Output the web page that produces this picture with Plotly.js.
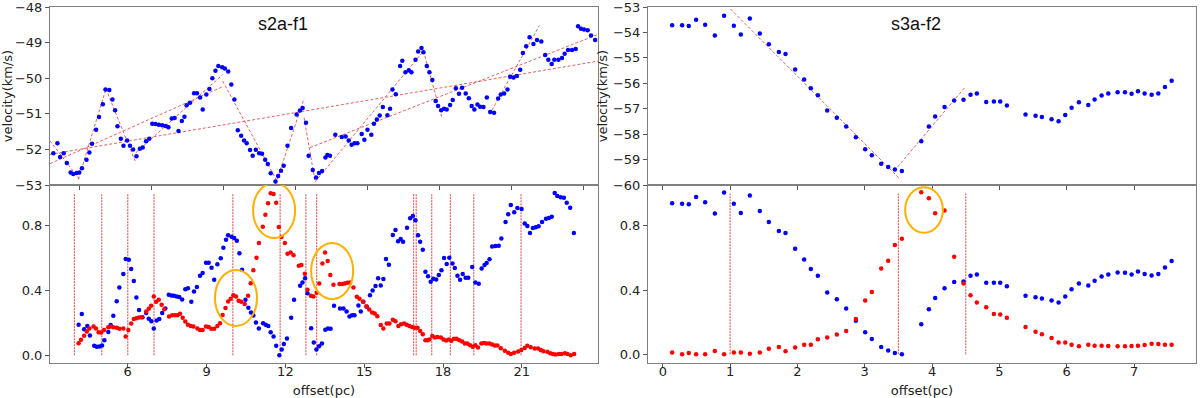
<!DOCTYPE html>
<html>
<head>
<meta charset="utf-8">
<script src="https://cdn.plot.ly/plotly-3.0.1.min.js"></script>
<style>
  html, body { margin: 0; padding: 0; background: #fff; }
  #chart { width: 1200px; height: 398px; }
</style>
</head>
<body>
<div id="chart"></div>
<script>
// ---- s2a-f1: velocity (top left) ----
const velLx = [1.93,2.10,2.21,2.36,2.49,2.65,2.76,2.90,3.01,3.12,3.31,3.43,3.54,3.71,3.83,3.99,4.10,4.26,4.39,4.50,4.60,4.74,4.85,5.00,5.12,5.25,5.39,5.53,5.65,5.79,5.92,6.05,6.18,6.32,6.46,6.60,6.72,6.86,6.98,7.14,7.28,7.39,7.48,7.62,7.79,7.91,8.04,8.15,8.30,8.43,8.55,8.68,8.80,8.96,9.07,9.21,9.34,9.47,9.61,9.75,9.87,9.98,10.12,10.23,10.36,10.50,10.62,10.75,10.86,10.98,11.18,11.29,11.41,11.52,11.68,11.83,12.06,12.20,12.31,12.45,12.56,
  12.73,12.87,12.99,13.12,13.26,13.34,13.45,13.67,13.94,14.10,14.23,14.35,14.47,14.59,14.77,14.88,15.01,15.17,15.28,15.40,15.52,15.65,15.84,15.95,16.05,16.19,16.37,16.46,16.59,16.73,16.84,17.01,17.12,17.26,17.34,17.48,17.59,17.71,17.85,17.95,18.08,18.20,18.31,18.45,18.56,18.69,18.82,18.95,19.10,19.23,19.35,19.46,19.59,19.70,19.84,19.98,20.12,20.28,20.45,20.56,20.70,20.84,20.95,21.09,21.23,21.37,21.48,21.62,21.76,21.92,22.07,22.25,22.41,22.54,22.68,22.79,22.96,23.11,23.22,23.36,23.53,23.68,23.78,23.90,24.03,24.18,24.32,24.49];
const velLy = [-52.11,-51.83,-52.21,-52.11,-52.38,-52.65,-52.69,-52.66,-52.65,-52.53,-52.29,-52.09,-51.84,-51.45,-51.09,-50.73,-50.32,-50.33,-50.60,-50.90,-51.35,-51.70,-51.90,-51.75,-51.90,-52.00,-52.19,-51.98,-51.95,-51.77,-51.70,-51.28,-51.29,-51.31,-51.32,-51.34,-51.38,-51.13,-51.12,-51.48,-51.20,-51.08,-50.76,-50.69,-50.42,-50.42,-50.54,-50.88,-50.46,-50.30,-50.00,-49.79,-49.66,-49.69,-49.73,-49.81,-50.18,-50.60,-51.46,-51.62,-51.75,-51.83,-52.02,-52.18,-52.01,-52.11,-52.12,-52.29,-52.41,-52.67,-52.90,-52.75,-52.60,-52.46,-51.90,-51.40,-51.02,-50.91,-50.84,-51.25,-52.18,
  -52.58,-52.79,-52.66,-52.61,-52.23,-52.16,-52.18,-51.59,-51.65,-51.64,-51.75,-51.87,-51.83,-51.83,-51.57,-51.73,-51.45,-51.59,-51.28,-51.16,-51.05,-50.81,-51.04,-50.86,-50.32,-50.45,-49.66,-49.51,-49.83,-49.78,-49.83,-49.48,-49.25,-49.15,-49.27,-49.66,-49.83,-50.05,-50.64,-50.78,-50.90,-50.86,-50.88,-50.75,-50.61,-50.28,-50.44,-50.27,-50.43,-50.56,-50.78,-50.88,-50.74,-50.80,-50.81,-50.54,-50.95,-50.97,-50.57,-50.46,-50.43,-50.32,-49.96,-49.98,-49.94,-49.76,-49.29,-49.10,-48.85,-49.04,-48.93,-48.97,-49.35,-49.48,-49.60,-49.48,-49.48,-49.43,-49.31,-49.21,-49.21,-49.18,-48.54,-48.61,-48.63,-48.65,-48.80,-48.93];
// fitted segments [x0, y0, x1, y1]
const fitL = [
  [1.79,-51.76, 3.04,-52.86],
  [2.97,-52.84, 4.12,-50.30],
  [4.12,-50.30, 5.37,-52.39],
  [5.37,-52.09, 8.98,-49.90],
  [8.98,-50.08, 11.26,-52.91],
  [11.18,-52.98, 12.37,-50.57],
  [12.37,-51.11, 12.83,-52.91],
  [12.83,-52.91, 17.34,-49.24],
  [17.34,-49.24, 18.12,-51.13],
  [20.09,-51.02, 22.17,-48.52],
  [1.79,-52.40, 8.98,-50.24],
  [1.79,-52.14, 24.61,-49.52],
  [12.62,-51.95, 24.61,-48.77]
];

// ---- s2a-f1: fractions (bottom left) ----
const blueLx = [4.13,4.25,4.34,4.46,4.56,4.72,4.82,4.92,5.02,5.11,5.26,5.35,5.45,5.58,5.68,5.83,5.92,6.04,6.13,6.23,6.33,6.43,6.56,6.70,6.80,6.90,6.99,7.10,7.20,7.31,7.43,7.56,7.66,7.76,7.86,7.96,8.07,8.19,8.29,8.42,8.52,8.63,8.75,8.85,8.98,9.08,9.19,9.29,9.41,9.54,9.64,9.74,9.82,9.95,10.05,10.15,10.25,10.35,10.48,10.59,10.69,10.78,10.88,10.99,11.15,11.25,11.35,11.44,11.55,11.65,11.77,11.86,11.94,12.06,12.22,12.33,12.56,12.65,12.75,12.84,12.98,13.08,13.18,13.28,13.39,13.52,13.62,13.72,13.85,14.08,14.21,14.33,14.44,14.54,14.63,14.78,14.87,14.97,15.10,15.22,15.32,15.43,15.53,15.63,15.73,15.83,15.94,16.09,16.19,16.29,16.39,16.48,16.63,16.75,16.85,16.95,17.05,17.13,17.23,17.33,17.43,17.53,17.63,17.74,17.84,17.94,18.04,18.14,18.24,18.36,18.45,18.55,18.65,18.75,18.86,18.96,19.11,19.23,19.36,19.47,19.58,19.66,19.77,19.87,20.00,20.12,20.22,20.38,20.48,20.58,20.71,20.83,20.99,21.11,21.21,21.31,21.42,21.53,21.64,21.77,21.92,22.03,22.14,22.25,22.35,22.48,22.60,22.71,22.84,22.98];
const blueL = [0.188,0.254,0.161,0.181,0.122,0.058,0.052,0.054,0.060,0.093,0.144,0.186,0.243,0.334,0.418,0.501,0.594,0.590,0.532,0.458,0.357,0.280,0.235,0.260,0.225,0.210,0.165,0.214,0.223,0.260,0.289,0.373,0.369,0.367,0.363,0.359,0.344,0.408,0.414,0.330,0.394,0.421,0.491,0.507,0.571,0.571,0.540,0.466,0.561,0.598,0.664,0.713,0.740,0.732,0.724,0.707,0.629,0.528,0.342,0.293,0.264,0.245,0.202,0.165,0.198,0.188,0.181,0.142,0.115,0.058,0.000,0.035,0.070,0.103,0.231,0.342,0.429,0.449,0.476,0.383,0.167,0.078,0.035,0.055,0.072,0.157,0.165,0.163,0.305,0.289,0.289,0.270,0.239,0.247,0.247,0.307,0.270,0.330,0.299,0.371,0.400,0.427,0.476,0.431,0.470,0.594,0.559,0.742,0.773,0.703,0.717,0.701,0.787,0.845,0.860,0.833,0.740,0.701,0.651,0.515,0.487,0.454,0.472,0.468,0.495,0.524,0.600,0.563,0.602,0.567,0.538,0.491,0.466,0.501,0.478,0.478,0.544,0.449,0.441,0.536,0.557,0.569,0.592,0.672,0.674,0.676,0.721,0.823,0.870,0.928,0.882,0.909,0.903,0.814,0.798,0.754,0.785,0.790,0.796,0.823,0.843,0.847,0.855,1.002,0.983,0.975,0.973,0.942,0.911,0.754];
const redLx = [4.13,4.22,4.34,4.44,4.54,4.70,4.79,4.89,4.99,5.10,5.26,5.35,5.45,5.58,5.68,5.83,5.92,6.02,6.13,6.23,6.33,6.43,6.53,6.70,6.80,6.89,6.99,7.08,7.18,7.29,7.39,7.57,7.69,7.79,7.89,7.99,8.09,8.19,8.29,8.40,8.50,8.65,8.75,8.85,8.98,9.08,9.18,9.29,9.41,9.51,9.61,9.72,9.82,9.92,10.02,10.12,10.22,10.32,10.45,10.58,10.68,10.78,10.90,10.99,11.14,11.24,11.34,11.44,11.55,11.65,11.75,11.85,11.98,12.08,12.20,12.31,12.51,12.61,12.74,12.84,12.97,13.07,13.19,13.29,13.41,13.51,13.61,13.71,13.83,14.06,14.16,14.26,14.36,14.46,14.59,14.72,14.82,14.95,15.08,15.19,15.30,15.40,15.50,15.63,15.73,15.86,15.96,16.09,16.19,16.30,16.40,16.52,16.62,16.72,16.82,16.92,17.03,17.13,17.23,17.33,17.41,17.48,17.59,17.69,17.79,17.92,18.02,18.12,18.22,18.32,18.42,18.52,18.62,18.73,18.83,18.93,19.03,19.13,19.23,19.33,19.46,19.56,19.66,19.77,19.87,19.97,20.07,20.20,20.35,20.48,20.58,20.71,20.86,20.98,21.11,21.21,21.34,21.49,21.62,21.72,21.82,21.97,22.08,22.18,22.28,22.41,22.51,22.64,22.74,22.86,22.99];
const redL = [0.074,0.095,0.120,0.146,0.165,0.177,0.165,0.142,0.140,0.155,0.173,0.177,0.173,0.169,0.163,0.165,0.115,0.155,0.196,0.223,0.229,0.233,0.235,0.270,0.287,0.305,0.363,0.330,0.342,0.311,0.284,0.239,0.247,0.247,0.247,0.256,0.231,0.208,0.188,0.181,0.177,0.165,0.155,0.155,0.177,0.175,0.163,0.163,0.181,0.198,0.249,0.291,0.332,0.348,0.371,0.363,0.336,0.330,0.317,0.367,0.445,0.524,0.602,0.693,0.794,0.868,0.938,1.000,0.996,0.942,0.792,0.730,0.693,0.627,0.635,0.618,0.552,0.557,0.503,0.404,0.367,0.363,0.385,0.443,0.567,0.635,0.581,0.495,0.435,0.439,0.439,0.443,0.447,0.449,0.418,0.361,0.348,0.330,0.303,0.282,0.264,0.258,0.241,0.186,0.165,0.196,0.196,0.219,0.210,0.181,0.192,0.196,0.188,0.181,0.175,0.169,0.169,0.150,0.130,0.093,0.093,0.097,0.118,0.109,0.113,0.109,0.097,0.091,0.097,0.089,0.101,0.101,0.093,0.085,0.072,0.072,0.062,0.052,0.062,0.047,0.072,0.076,0.072,0.072,0.066,0.060,0.060,0.043,0.027,0.016,0.008,0.016,0.023,0.033,0.045,0.058,0.049,0.041,0.041,0.033,0.025,0.021,0.012,0.008,0.004,0.008,0.008,0.012,0.008,0.000,0.008];
const splitsL = [3.97, 5.01, 6.0, 7.0, 10.0, 11.8, 12.78, 13.19, 16.88, 16.98, 17.57, 18.28, 19.17, 20.97];

// ---- s3a-f2 (right) ----
const offsetR = [0.139,0.287,0.386,0.495,0.629,0.773,0.911,1.055,1.159,1.293,1.441,1.575,1.724,1.823,1.966,2.100,2.199,2.303,2.442,2.585,2.724,2.868,3.006,3.105,3.244,3.348,3.447,3.551,3.839,3.952,4.046,4.185,4.328,4.467,4.571,4.665,4.804,4.918,5.012,5.111,5.388,5.537,5.631,5.775,5.879,5.978,6.072,6.181,6.320,6.414,6.518,6.617,6.756,6.865,6.963,7.058,7.157,7.261,7.360,7.459,7.558];
const velR = [-53.72,-53.72,-53.75,-53.50,-53.70,-54.12,-53.34,-53.74,-54.08,-53.45,-54.04,-54.46,-54.77,-54.85,-55.46,-55.85,-56.20,-56.47,-57.07,-57.36,-57.70,-58.12,-58.59,-58.83,-59.16,-59.29,-59.39,-59.45,-58.28,-57.70,-57.31,-56.93,-56.68,-56.65,-56.45,-56.40,-56.74,-56.72,-56.72,-56.87,-57.23,-57.28,-57.33,-57.41,-57.49,-57.25,-56.96,-56.75,-56.85,-56.64,-56.48,-56.40,-56.35,-56.35,-56.41,-56.31,-56.40,-56.45,-56.40,-56.15,-55.90];
const blueR = [0.939,0.937,0.933,0.979,0.946,0.875,1.006,0.937,0.879,0.987,0.892,0.823,0.767,0.754,0.657,0.590,0.530,0.488,0.384,0.343,0.285,0.208,0.137,0.096,0.046,0.023,0.008,0.000,0.187,0.281,0.351,0.411,0.449,0.453,0.488,0.497,0.445,0.445,0.445,0.424,0.364,0.355,0.347,0.335,0.322,0.360,0.405,0.441,0.428,0.457,0.484,0.497,0.509,0.507,0.497,0.515,0.499,0.490,0.499,0.540,0.580];
const redR = [0.012,0.000,0.008,0.000,0.000,0.021,0.000,0.012,0.012,0.004,0.012,0.035,0.046,0.019,0.042,0.060,0.060,0.094,0.104,0.123,0.145,0.220,0.335,0.387,0.534,0.582,0.680,0.719,1.008,0.970,0.877,0.894,0.607,0.441,0.368,0.322,0.293,0.251,0.247,0.227,0.170,0.141,0.125,0.102,0.073,0.073,0.060,0.050,0.060,0.054,0.054,0.052,0.050,0.050,0.052,0.054,0.058,0.066,0.064,0.060,0.060];
const fitR = [
  [1.005,-53.08, 3.502,-59.71],
  [3.49,-59.28, 4.497,-56.13]
];
const splitsR = [1.0, 3.5, 4.5];

const schrift = "DejaVu Sans, sans-serif";
const rotStrich = "rgba(225,70,70,0.85)";

function punkte(x, y, farbe, xa, ya) {
  return {
    x: x, y: y, xaxis: xa, yaxis: ya,
    type: "scatter", mode: "markers",
    marker: { color: farbe, size: 4.5 },
    hoverinfo: "skip",
  };
}

function segmente(liste, xa, ya) {
  const xs = [];
  const ys = [];
  liste.forEach((s) => {
    xs.push(s[0], s[2], null);
    ys.push(s[1], s[3], null);
  });
  return {
    x: xs, y: ys, xaxis: xa, yaxis: ya,
    type: "scatter", mode: "lines",
    line: { color: rotStrich, width: 1, dash: "3px,2px" },
    hoverinfo: "skip",
  };
}

// vertical dashed markers from 0 to 1
function senkrechte(werte, xa, ya) {
  const xs = [];
  const ys = [];
  werte.forEach((w) => {
    xs.push(w, w, null);
    ys.push(0, 1, null);
  });
  return {
    x: xs, y: ys, xaxis: xa, yaxis: ya,
    type: "scatter", mode: "lines",
    line: { color: rotStrich, width: 1.2, dash: "2px,1px" },
    hoverinfo: "skip",
  };
}

function achse(extra) {
  return Object.assign({
    showline: true, mirror: true, linecolor: "#808080", linewidth: 1,
    ticks: "outside", ticklen: 4, tickcolor: "#555",
    showgrid: false, zeroline: false,
    ticklabeloverflow: "allow",
    tickfont: { family: schrift, size: 13, color: "#222" },
  }, extra);
}

const titelFont = { family: schrift, size: 13, color: "#222" };
const panelTitel = { family: "Liberation Sans, Arial, sans-serif", size: 18, color: "#111" };

const data = [
  segmente(fitL, "x", "y"),
  punkte(velLx, velLy, "#0000ff", "x", "y"),
  segmente(fitR, "x2", "y2"),
  punkte(offsetR, velR, "#0000ff", "x2", "y2"),
  senkrechte(splitsL, "x3", "y3"),
  punkte(blueLx, blueL, "#0000ff", "x3", "y3"),
  punkte(redLx, redL, "#ff0000", "x3", "y3"),
  senkrechte(splitsR, "x4", "y4"),
  punkte(offsetR, blueR, "#0000ff", "x4", "y4"),
  punkte(offsetR, redR, "#ff0000", "x4", "y4"),
];

const kreis = { color: "#ffb000", width: 2 };

const layout = {
  width: 1200,
  height: 398,
  margin: { l: 50, r: 4, t: 7, b: 35 },
  paper_bgcolor: "#fff",
  plot_bgcolor: "#fff",
  showlegend: false,
  xaxis: achse({ domain: [0, 0.4782], anchor: "y", range: [1.79, 24.61], tick0: 3, dtick: 3, showticklabels: false }),
  yaxis: achse({ domain: [0.5, 1], anchor: "x", range: [-53, -48], dtick: 1,
    title: { text: "velocity(km/s)", font: titelFont, standoff: 6 } }),
  xaxis2: achse({ domain: [0.5218, 1], anchor: "y2", range: [-0.22, 7.92], dtick: 1, showticklabels: false }),
  yaxis2: achse({ domain: [0.5, 1], anchor: "x2", range: [-60, -53], dtick: 1,
    title: { text: "velocity(km/s)", font: titelFont, standoff: 2 } }),
  xaxis3: achse({ domain: [0, 0.4782], anchor: "y3", range: [3.04, 23.9], tick0: 0, dtick: 3,
    ticklabelstandoff: -8,
    title: { text: "offset(pc)", font: titelFont, standoff: 10 } }),
  yaxis3: achse({ domain: [0, 0.5], anchor: "x3", range: [-0.048, 1.051], dtick: 0.4, tickformat: ".1f" }),
  xaxis4: achse({ domain: [0.5218, 1], anchor: "y4", range: [-0.22, 7.92], dtick: 1,
    ticklabelstandoff: -8,
    title: { text: "offset(pc)", font: titelFont, standoff: 10 } }),
  yaxis4: achse({ domain: [0, 0.5], anchor: "x4", range: [-0.054, 1.053], dtick: 0.4, tickformat: ".1f" }),
  shapes: [
    { type: "circle", xref: "x3", yref: "y3", x0: 10.77, x1: 12.37, y0: 0.724, y1: 1.064, line: kreis },
    { type: "circle", xref: "x3", yref: "y3", x0: 9.32, x1: 10.92, y0: 0.181, y1: 0.526, line: kreis },
    { type: "circle", xref: "x3", yref: "y3", x0: 12.98, x1: 14.58, y0: 0.346, y1: 0.693, line: kreis },
    { type: "circle", xref: "x4", yref: "y4", x0: 3.60, x1: 4.16, y0: 0.756, y1: 1.039, line: kreis },
  ],
  annotations: [
    { text: "s2a-f1", xref: "paper", yref: "paper", x: 0.2033, y: 0.952,
      xanchor: "center", yanchor: "middle", showarrow: false, font: panelTitel },
    { text: "s3a-f2", xref: "paper", yref: "paper", x: 0.7557, y: 0.952,
      xanchor: "center", yanchor: "middle", showarrow: false, font: panelTitel },
  ],
};

Plotly.newPlot("chart", data, layout, { displayModeBar: false, staticPlot: true });
</script>
</body>
</html>
